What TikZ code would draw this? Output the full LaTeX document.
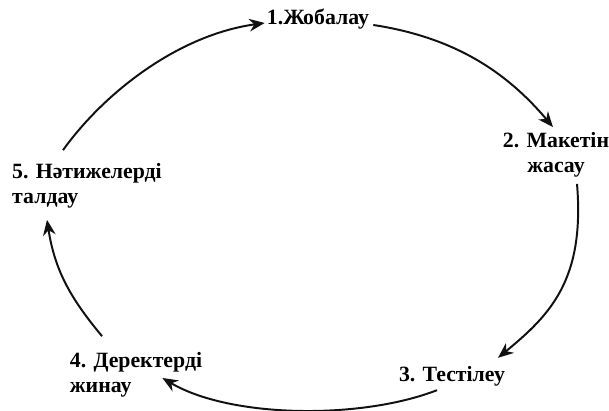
\documentclass[tikz,border=0pt]{standalone}
\usepackage{fontspec}
\setmainfont{Liberation Serif}
\usepackage{tikz}
\usetikzlibrary{arrows.meta}
\usepackage{xcolor}
\definecolor{cyclink}{HTML}{111111}

\begin{document}
\begin{tikzpicture}[
    x=0.025cm, y=-0.025cm,
    stage/.style={inner sep=0pt, font=\fontsize{15.5}{18}\selectfont\bfseries,
                  text=black},
    arr/.style={-{Stealth[length=11pt, width=9pt]}, line width=1.4pt, color=cyclink}
  ]
    \useasboundingbox (0,0) rectangle (609,411);
    \node[stage] (plan) at (318,19) {1.Жобалау};
    \node[stage, align=center] (maket) at (556,155) {2. Макетін\\жасау};
    \node[stage] (test) at (452,376) {3. Тестілеу};
    \node[stage, align=left] (data) at (136,375) {4. Деректерді\\жинау};
    \node[stage, align=left] (anal) at (87,186) {5. Нәтижелерді\\талдау};
    \draw[arr] ([shift={(-24,-13)}]anal.north) .. controls (104,93) and (178,35) .. ([shift={(-2,4)}]plan.west);
    \draw[arr] ([shift={(4,6)}]plan.east) .. controls (452,37) and (505,70) .. ([shift={(-3,-5)}]maket.north);
    \draw[arr] ([shift={(21,6)}]maket.south) .. controls (585,280) and (550,315) .. ([shift={(46,-8)}]test.north);
    \draw[arr] ([shift={(-15,4)}]test.south) .. controls (360,420) and (230,418) .. ([shift={(-40,3)}]data.east);
    \draw[arr] ([shift={(-34,-16)}]data.north) .. controls (72,300) and (55,272) .. ([shift={(-40,11)}]anal.south);
  \end{tikzpicture}
\end{document}
